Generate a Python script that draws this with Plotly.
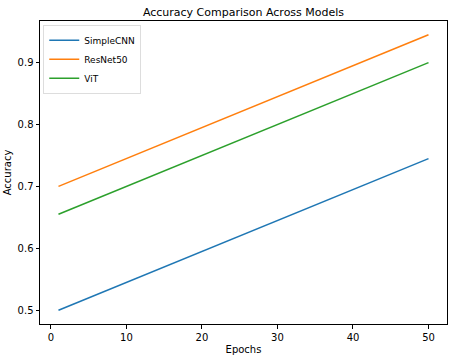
import plotly.graph_objects as go

epochs = [1, 10, 20, 30, 40, 50]
simplecnn = [0.500, 0.545, 0.595, 0.645, 0.695, 0.745]
resnet50 = [0.700, 0.745, 0.795, 0.845, 0.895, 0.945]
vit = [0.655, 0.700, 0.750, 0.800, 0.850, 0.900]

series = [("SimpleCNN", simplecnn, "#1f77b4"),
          ("ResNet50", resnet50, "#ff7f0e"),
          ("ViT", vit, "#2ca02c")]

fig = go.Figure()
for name, vals, col in series:
    fig.add_trace(go.Scatter(x=epochs, y=vals, mode="lines", name=name,
                             line=dict(color=col, width=1.5)))

font = "DejaVu Sans, sans-serif"
fig.update_layout(
    width=454, height=360,
    margin=dict(l=40, r=7, t=21, b=36),
    paper_bgcolor="white", plot_bgcolor="white",
    font=dict(family=font, size=10, color="black"),
    title=dict(text="Accuracy Comparison Across Models", x=0.5, xref="paper",
               xanchor="center", y=1 - 12/360, yanchor="middle",
               font=dict(size=11, family=font)),
    showlegend=True,
    legend=dict(x=0.008, y=0.988, xanchor="left", yanchor="top",
                bgcolor="rgba(255,255,255,0.8)", bordercolor="#dddddd", borderwidth=1,
                font=dict(size=9), tracegroupgap=0, itemwidth=30),
    xaxis=dict(range=[-1.45, 52.45], tickvals=[0, 10, 20, 30, 40, 50],
               showgrid=False, zeroline=False, showline=True, linecolor="black",
               linewidth=1, mirror=True, ticks="outside", ticklen=3.5,
               tickcolor="black", title=dict(text="Epochs", standoff=4,
                                             font=dict(size=10))),
    yaxis=dict(range=[0.4778, 0.9672], tickvals=[0.5, 0.6, 0.7, 0.8, 0.9],
               ticktext=["0.5", "0.6", "0.7", "0.8", "0.9"],
               showgrid=False, zeroline=False, showline=True, linecolor="black",
               linewidth=1, mirror=True, ticks="outside", ticklen=3.5,
               tickcolor="black", title=dict(text="Accuracy", standoff=4,
                                             font=dict(size=10))),
)

fig.write_html("out.html", config={"displayModeBar": False},
               post_script="document.body.style.margin='0';")
